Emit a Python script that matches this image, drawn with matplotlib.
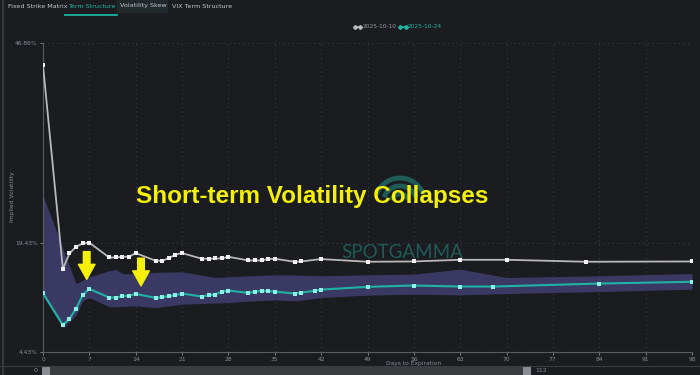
import matplotlib
matplotlib.use("Agg")
import matplotlib.pyplot as plt
from matplotlib.patches import Rectangle, Arc
from matplotlib.lines import Line2D

# ---------------------------------------------------------------------------
# Data
# ---------------------------------------------------------------------------
days_oct10 = [0, 3, 4, 5, 6, 7, 10, 11, 12, 13, 14, 17, 18, 19, 20, 21, 24, 25,
              26, 27, 28, 31, 32, 33, 34, 35, 38, 39, 42, 49, 56, 63, 70, 82, 98]
iv_oct10 = [43.76, 15.84, 17.95, 18.87, 19.32, 19.42, 17.40, 17.40, 17.50, 17.50,
            18.00, 16.95, 16.95, 17.30, 17.80, 18.00, 17.22, 17.22, 17.26, 17.26,
            17.49, 16.99, 16.99, 16.99, 17.18, 17.22, 16.81, 16.85, 17.18, 16.81,
            16.85, 17.08, 17.08, 16.81, 16.85]

days_oct24 = [0, 3, 4, 5, 6, 7, 10, 11, 12, 13, 14, 17, 18, 19, 20, 21, 24, 25,
              26, 27, 28, 31, 32, 33, 34, 35, 38, 39, 41, 42, 49, 56, 63, 68, 84, 98]
iv_oct24 = [12.50, 8.14, 9.01, 10.38, 12.27, 13.09, 11.90, 11.90, 12.09, 12.17,
            12.40, 11.86, 11.95, 12.09, 12.23, 12.45, 12.03, 12.23, 12.31, 12.72,
            12.86, 12.54, 12.72, 12.82, 12.77, 12.72, 12.45, 12.58, 12.82, 12.99,
            13.37, 13.55, 13.41, 13.41, 13.82, 14.06]

band_days = [0, 3, 5, 6, 7, 10, 11, 12, 14, 17, 21, 26, 28, 31, 35, 38, 42, 49,
             56, 63, 70, 84, 98]
band_hi = [25.88, 18.59, 13.78, 14.30, 14.74, 15.57, 15.77, 15.16, 15.16, 15.36,
           15.43, 14.65, 14.75, 14.88, 15.02, 15.00, 14.88, 15.02, 15.11, 15.80,
           14.65, 14.88, 15.20]
band_lo = [12.13, 7.73, 9.50, 11.44, 11.90, 10.62, 10.65, 10.70, 10.76, 10.52,
           10.99, 11.15, 11.21, 11.40, 11.58, 11.44, 11.90, 12.23, 12.36, 12.27,
           12.45, 12.72, 13.05]

x_ticks = [0, 7, 14, 21, 28, 35, 42, 49, 56, 63, 70, 77, 84, 91, 98]
y_ticks = [4.43, 19.43, 46.86]
y_tick_labels = ["4.43%", "19.43%", "46.86%"]
tabs = ["Fixed Strike Matrix", "Term Structure", "Volatility Skew", "VIX Term Structure"]
series_labels = ["2025-10-10", "2025-10-24"]
title = "Short-term Volatility Collapses"

# ---------------------------------------------------------------------------
BG = "#1b1c20"
GRID = "#3a3d44"
GREY = "#b9b9b9"
TEAL = "#1fb3a3"
BAND = "#3c3b68"
YELLOW = "#f4f00c"
TXT = "#8a8d93"
MARK = "#1f5b57"

W, H = 700, 375
fig = plt.figure(figsize=(7, 3.75), dpi=100, facecolor=BG)


def px(x0, y0, x1, y1):
    """pixel box (top-left origin) -> figure fraction rect"""
    return [x0 / W, 1 - y1 / H, (x1 - x0) / W, (y1 - y0) / H]


# background layer: chrome + watermark (under the chart)
back = fig.add_axes([0, 0, 1, 1], facecolor="none", zorder=0)
back.set_xlim(0, W)
back.set_ylim(H, 0)
back.axis("off")

back.add_line(Line2D([3, 3], [0, H], color="#3c3e44", lw=1.2))

back.add_patch(Rectangle((117, 0), 51, 13, color="#20292b", lw=0))
tab_x = [8, 68, 120, 172]
for t, x in zip(tabs, tab_x):
    c = TEAL if t == "Term Structure" else "#c4c6ca"
    back.text(x, 6, t, color=c, fontsize=4.6, va="center", ha="left")
back.add_line(Line2D([65, 117], [15, 15], color=TEAL, lw=1.3))

back.text(402, 252, "SPOTGAMMA", color=MARK, fontsize=13.5, ha="center",
          va="center", fontfamily="Lato")
for r in [9, 17, 25]:
    back.add_patch(Arc((400, 203), 2 * r, 2 * r, theta1=200, theta2=340,
                       color=MARK, lw=3.5))

# legend
back.add_line(Line2D([355, 360], [27, 27], color=GREY, lw=1.2, marker="D", markersize=2))
back.text(363, 27, series_labels[0], color="#9a9ca1", fontsize=4.2, va="center")
back.add_line(Line2D([400, 406], [27, 27], color=TEAL, lw=1.2, marker="D", markersize=2))
back.text(408, 27, series_labels[1], color=TEAL, fontsize=4.2, va="center")

back.text(13, 197, "Implied Volatility", color=TXT, fontsize=4.3, rotation=90,
          ha="center", va="center")
back.text(414, 364, "Days to Expiration", color=TXT, fontsize=4.3, ha="center", va="center")
back.add_line(Line2D([0, W], [366, 366], color="#3a3c42", lw=0.8))
back.add_patch(Rectangle((43, 367), 485, 8, color="#3b3c40", lw=0))
back.add_patch(Rectangle((42, 367), 8, 8, color="#8b8d92", lw=0))
back.add_patch(Rectangle((523, 367), 8, 8, color="#8b8d92", lw=0))
back.text(38, 371, "0", color=TXT, fontsize=4.5, ha="right", va="center")
back.text(535, 371, "112", color=TXT, fontsize=4.5, ha="left", va="center")

# main chart
ax = fig.add_axes(px(43, 42.7, 692, 352), facecolor="none", zorder=1)
ax.set_xlim(0, 98)
ax.set_ylim(4.43, 46.86)

ax.fill_between(band_days, band_lo, band_hi, color=BAND, lw=0, zorder=1, alpha=0.95)
ax.plot(days_oct10, iv_oct10, color=GREY, lw=1.3, zorder=3,
        marker="s", markersize=2.6, markerfacecolor="#f2f2f2", markeredgewidth=0)
ax.plot(days_oct24, iv_oct24, color=TEAL, lw=1.5, zorder=3,
        marker="s", markersize=2.6, markerfacecolor="#8ef0e4", markeredgewidth=0)

ax.set_xticks(x_ticks)
ax.set_xticklabels([str(v) for v in x_ticks])
ax.set_yticks(y_ticks)
ax.set_yticklabels(y_tick_labels)
ax.tick_params(colors=TXT, labelsize=4.3, length=2.5, width=0.6, pad=1.2)
ax.grid(True, color=GRID, lw=0.8, ls=(0, (1, 3)))
ax.set_axisbelow(True)
for s in ["top", "right"]:
    ax.spines[s].set_visible(False)
for s in ["left", "bottom"]:
    ax.spines[s].set_color("#5a5d63")
    ax.spines[s].set_linewidth(0.8)

# yellow arrows
for xd, y0, y1 in [(6.6, 18.2, 14.4), (14.8, 17.3, 13.5)]:
    ax.annotate("", xy=(xd, y1), xytext=(xd, y0), zorder=6,
                arrowprops=dict(arrowstyle="simple,head_width=1.0,head_length=0.9,tail_width=0.4",
                                color=YELLOW, mutation_scale=12, shrinkA=0, shrinkB=0))

# headline (on top of everything)
front = fig.add_axes([0, 0, 1, 1], facecolor="none", zorder=2)
front.set_xlim(0, W)
front.set_ylim(H, 0)
front.axis("off")
front.text(312, 197, title, color=YELLOW, fontsize=17.5, fontweight="bold",
           ha="center", va="center", fontfamily="Liberation Sans")

fig.savefig("out.png", dpi=100, facecolor=BG)
